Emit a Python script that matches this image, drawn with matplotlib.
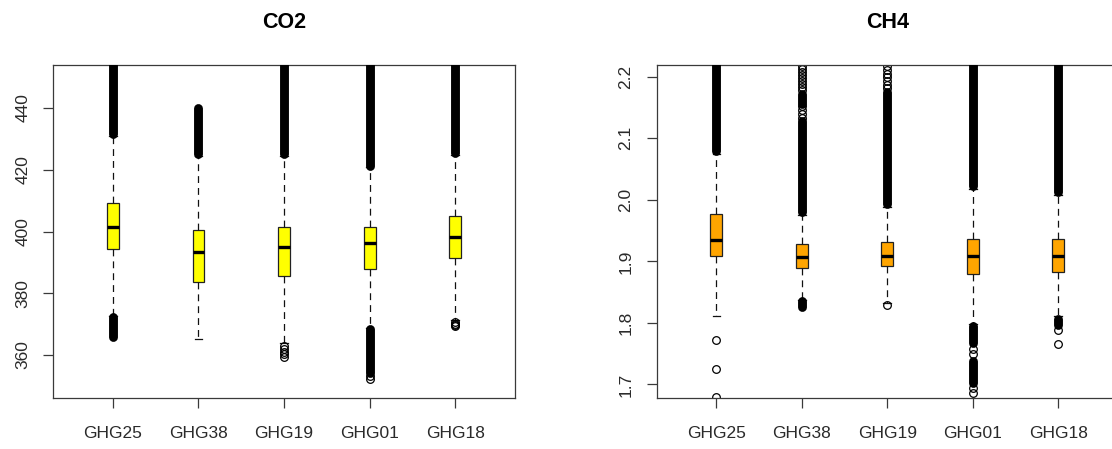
#!/usr/bin/env python3
# co2 / ch4 boxplots per station, R-style look

import matplotlib
matplotlib.use("Agg")
import matplotlib.pyplot as plt

plt.rcParams['font.family'] = ['Liberation Sans', 'DejaVu Sans']

stations = ['GHG25', 'GHG38', 'GHG19', 'GHG01', 'GHG18']

# CO2 box stats (ppm)
co2_q1 = [394.3, 383.8, 385.7, 387.9, 391.3]
co2_med = [401.3, 393.5, 395.1, 396.2, 398.2]
co2_q3 = [409.3, 400.5, 401.6, 401.3, 405.1]
co2_whislo = [372.6, 365.1, 363.8, 368.8, 371.3]
co2_whishi = [431.0, 424.5, 424.5, 420.8, 424.8]
# single outliers that show as separate circles
co2_fliers = [[], [], [362.8, 361.8, 361.0, 360.2, 359.4], [353.2, 352.3],
              [370.6, 370.2, 369.8, 369.4]]
# outliers so dense they merge into a solid bar: (low, high)
co2_dense = [[(431.6, 456.0), (365.8, 372.2)],
             [(425.0, 440.0)],
             [(425.0, 456.0)],
             [(421.3, 456.0), (354.2, 368.3)],
             [(425.3, 456.0)]]

# CH4 box stats (ppm)
ch4_q1 = [1.909, 1.890, 1.8923, 1.879, 1.883]
ch4_med = [1.9346, 1.9065, 1.909, 1.9086, 1.9086]
ch4_q3 = [1.9764, 1.9276, 1.9309, 1.9357, 1.9357]
ch4_whislo = [1.8116, 1.8375, 1.832, 1.799, 1.8105]
ch4_whishi = [2.074, 1.976, 1.988, 2.017, 2.008]
ch4_fliers = [[1.773, 1.725, 1.680],
              [2.133, 2.139, 2.146, 2.152, 2.178, 2.183, 2.188, 2.193,
               2.198, 2.203, 2.208, 2.213, 2.218],
              [1.829, 2.181, 2.187, 2.193, 2.199, 2.205, 2.211, 2.217],
              [1.758, 1.750, 1.694, 1.686],
              [1.789, 1.766]]
ch4_dense = [[(2.079, 2.23)],
             [(1.981, 2.128), (2.156, 2.172), (1.8255, 1.836)],
             [(1.993, 2.175)],
             [(2.022, 2.23), (1.767, 1.795), (1.703, 1.738)],
             [(2.013, 2.23), (1.797, 1.806)]]

FRAME = '#3a3a3a'


def draw_panel(ax, title, q1, med, q3, lo, hi, fliers, dense, color, ylim, yticks):
    stats = []
    for i in range(len(stations)):
        stats.append(dict(med=med[i], q1=q1[i], q3=q3[i], whislo=lo[i],
                          whishi=hi[i], fliers=fliers[i], label=stations[i]))
    pos = list(range(1, len(stations) + 1))
    ax.bxp(stats, positions=pos, widths=0.14, capwidths=0.09,
           patch_artist=True, showfliers=True,
           boxprops=dict(facecolor=color, edgecolor='#222222', linewidth=0.9),
           medianprops=dict(color='black', linewidth=2.4, solid_capstyle='butt'),
           whiskerprops=dict(color='#111111', linewidth=0.9, linestyle=(0, (5.5, 4))),
           capprops=dict(color='#111111', linewidth=0.9),
           flierprops=dict(marker='o', markerfacecolor='none',
                           markeredgecolor='black', markersize=5.5,
                           markeredgewidth=0.9))
    # dense outlier runs drawn as thick round-capped bars
    for p, runs in zip(pos, dense):
        for a, b in runs:
            ax.plot([p, p], [a, b], color='black', linewidth=6.4,
                    solid_capstyle='round', zorder=3)

    ax.set_xlim(0.3, 5.7)
    ax.set_ylim(*ylim)
    ax.set_xticks(pos)
    ax.set_xticklabels(stations)
    ax.set_yticks(yticks)
    for lab in ax.get_yticklabels():
        lab.set_rotation(90)
        lab.set_va('center')
    ax.tick_params(axis='both', length=7.5, width=0.9, color=FRAME,
                   labelsize=12.5, labelcolor='#2a2a2a')
    ax.tick_params(axis='x', pad=12.5)
    ax.tick_params(axis='y', pad=9)
    for s in ax.spines.values():
        s.set_color(FRAME)
        s.set_linewidth(0.9)
    ax.set_title(title, fontsize=15.5, fontweight='bold', pad=27)


fig = plt.figure(figsize=(11.12, 4.49), dpi=100)
ax1 = fig.add_axes([0.0477, 0.1136, 0.4155, 0.7416])
ax2 = fig.add_axes([0.5904, 0.1136, 0.4151, 0.7416])

draw_panel(ax1, 'CO2', co2_q1, co2_med, co2_q3, co2_whislo, co2_whishi,
           co2_fliers, co2_dense, '#ffff00', (346.1, 453.9), [360, 380, 400, 420, 440])
draw_panel(ax2, 'CH4', ch4_q1, ch4_med, ch4_q3, ch4_whislo, ch4_whishi,
           ch4_fliers, ch4_dense, '#ffa500', (1.678, 2.219), [1.7, 1.8, 1.9, 2.0, 2.1, 2.2])

fig.savefig('out.png', dpi=100)
print("saved out.png")
